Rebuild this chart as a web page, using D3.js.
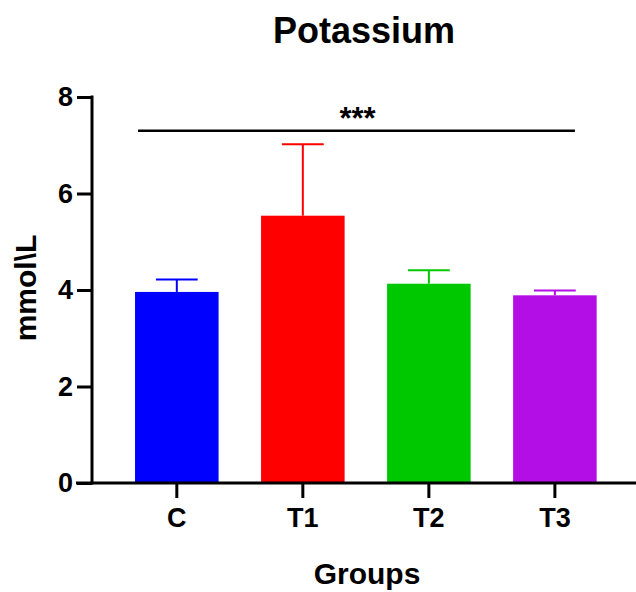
<!DOCTYPE html>
<html>
<head>
<meta charset="utf-8">
<script src="https://cdn.jsdelivr.net/npm/d3@7"></script>
<style>
  body { margin: 0; background: #fff; }
  svg { display: block; font-family: "Liberation Sans", Arial, sans-serif; }
</style>
</head>
<body>
<svg id="chart" width="636" height="592"></svg>
<script>
var groups = ["C", "T1", "T2", "T3"];
var means = [3.96, 5.54, 4.13, 3.89];
var sds = [0.26, 1.48, 0.28, 0.10];
var barColors = ["#0000ff", "#ff0000", "#00c800", "#b40ee6"];
var yTicks = [0, 2, 4, 6, 8];
var sigLevel = 7.3;
var sigLabel = "***";

var width = 636;
var height = 592;
var axisX = 92;

var svg = d3.select("#chart");

var data = groups.map((g, i) => ({ group: g, mean: means[i], sd: sds[i], color: barColors[i] }));

var xScale = d3.scaleBand()
    .domain(groups)
    .range([113.8, 617.9])
    .paddingInner(0.337)
    .paddingOuter(0.1685);

var yScale = d3.scaleLinear()
    .domain([0, 8])
    .range([483, 97]);

// bars
svg.selectAll(".bar")
    .data(data)
    .enter()
    .append("rect")
    .attr("class", "bar")
    .attr("x", d => xScale(d.group))
    .attr("y", d => yScale(d.mean))
    .attr("width", xScale.bandwidth())
    .attr("height", d => yScale(0) - yScale(d.mean))
    .attr("fill", d => d.color);

// error bars (upper only)
var err = svg.selectAll(".err")
    .data(data)
    .enter()
    .append("g")
    .attr("class", "err")
    .attr("stroke", d => d.color)
    .attr("stroke-width", 2);

err.append("line")
    .attr("x1", d => xScale(d.group) + xScale.bandwidth() / 2)
    .attr("x2", d => xScale(d.group) + xScale.bandwidth() / 2)
    .attr("y1", d => yScale(d.mean))
    .attr("y2", d => yScale(d.mean + d.sd));

err.append("line")
    .attr("x1", d => xScale(d.group) + xScale.bandwidth() / 4)
    .attr("x2", d => xScale(d.group) + xScale.bandwidth() * 3 / 4)
    .attr("y1", d => yScale(d.mean + d.sd))
    .attr("y2", d => yScale(d.mean + d.sd));

// y axis
var yAxis = d3.axisLeft(yScale)
    .tickValues(yTicks)
    .tickSize(15)
    .tickSizeOuter(0)
    .tickPadding(4);

var yg = svg.append("g")
    .attr("transform", `translate(${axisX},0)`)
    .call(yAxis);

yg.select(".domain").attr("stroke-width", 3).attr("d", `M0,${yScale(0) + 1.5}V${yScale(8) - 1.5}`);
yg.selectAll(".tick line").attr("stroke-width", 3);
yg.selectAll(".tick text")
    .style("font-size", "27px")
    .style("font-weight", "bold")
    .style("font-family", "'Liberation Sans', Arial, sans-serif")
    .attr("fill", "#000");

// x axis
var xAxis = d3.axisBottom(xScale)
    .tickSize(15)
    .tickSizeOuter(0)
    .tickPadding(10);

var xg = svg.append("g")
    .attr("transform", `translate(0,${yScale(0)})`)
    .call(xAxis);

xg.select(".domain").remove();
xg.append("line")
    .attr("x1", axisX - 16)
    .attr("x2", width)
    .attr("stroke", "#000")
    .attr("stroke-width", 3);
xg.selectAll(".tick line").attr("stroke-width", 3);
xg.selectAll(".tick text")
    .style("font-size", "27px")
    .style("font-weight", "bold")
    .style("font-family", "'Liberation Sans', Arial, sans-serif")
    .attr("fill", "#000");

// significance line
svg.append("line")
    .attr("x1", xScale("C") + 3)
    .attr("x2", xScale("T3") + xScale.bandwidth() / 2 + 20)
    .attr("y1", yScale(sigLevel))
    .attr("y2", yScale(sigLevel))
    .attr("stroke", "#000")
    .attr("stroke-width", 2.5);

svg.append("text")
    .attr("x", 357.5)
    .attr("y", yScale(sigLevel) - 2)
    .attr("text-anchor", "middle")
    .style("font-size", "31px")
    .style("font-weight", "bold")
    .text(sigLabel);

// title
svg.append("text")
    .attr("x", 364)
    .attr("y", 43)
    .attr("text-anchor", "middle")
    .style("font-size", "36px")
    .style("font-weight", "bold")
    .text("Potassium");

// axis titles
svg.append("text")
    .attr("x", 367)
    .attr("y", 584)
    .attr("text-anchor", "middle")
    .style("font-size", "30px")
    .style("font-weight", "bold")
    .text("Groups");

svg.append("text")
    .attr("transform", "translate(36,288) rotate(-90)")
    .attr("text-anchor", "middle")
    .style("font-size", "30px")
    .style("font-weight", "bold")
    .text("mmol\\L");
</script>
</body>
</html>
